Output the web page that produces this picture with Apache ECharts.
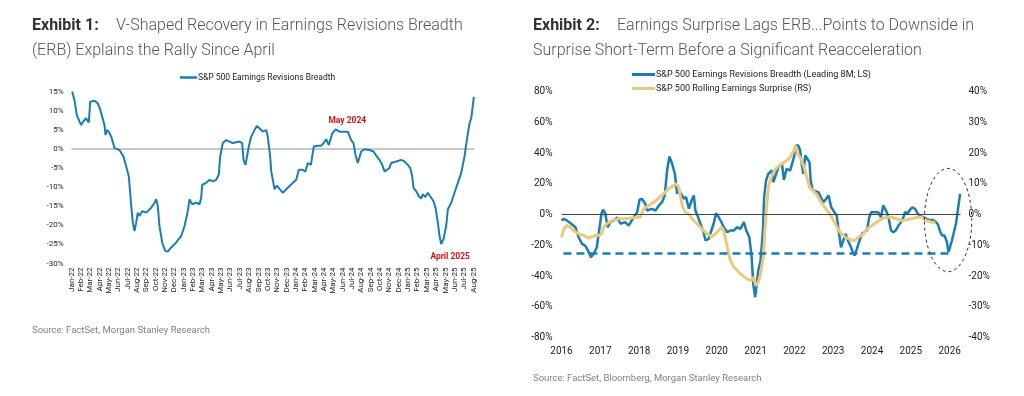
<!DOCTYPE html>
<html>
<head>
<meta charset="utf-8">
<script src="https://cdn.jsdelivr.net/npm/echarts@6/dist/echarts.min.js"></script>
<style>
  html, body { margin: 0; padding: 0; background: #fff; }
  #main { width: 1024px; height: 396px; }
</style>
</head>
<body>
<div id="main"></div>
<script>
// Exhibit 1: monthly ticks Jan-22 .. Aug-25
var monthLabels = ['Jan-22', 'Feb-22', 'Mar-22', 'Apr-22', 'May-22', 'Jun-22', 'Jul-22', 'Aug-22', 'Sep-22', 'Oct-22', 'Nov-22', 'Dec-22',
  'Jan-23', 'Feb-23', 'Mar-23', 'Apr-23', 'May-23', 'Jun-23', 'Jul-23', 'Aug-23', 'Sep-23', 'Oct-23', 'Nov-23', 'Dec-23',
  'Jan-24', 'Feb-24', 'Mar-24', 'Apr-24', 'May-24', 'Jun-24', 'Jul-24', 'Aug-24', 'Sep-24', 'Oct-24', 'Nov-24', 'Dec-24',
  'Jan-25', 'Feb-25', 'Mar-25', 'Apr-25', 'May-25', 'Jun-25', 'Jul-25', 'Aug-25'];

// position in months since Jan-22
var erbMonth = [0.07, 0.32, 0.57, 0.86, 1.04, 1.2, 1.39, 1.55, 1.64, 1.85, 2.0, 2.46, 2.81, 3.0, 3.18, 3.53, 3.64, 3.78, 4.0, 4.25,
  4.6, 5.13, 5.56, 5.85, 6.13, 6.39, 6.56, 6.74, 6.92, 7.09, 7.27, 7.56, 7.99, 8.52, 8.88, 9.06, 9.23, 9.41, 9.7, 10.02,
  10.3, 10.66, 11.2, 11.73, 12.09, 12.44, 12.62, 12.91, 13.34, 13.69, 13.87, 13.98, 14.41, 14.76, 15.11, 15.48, 15.75, 15.9, 16.18, 16.55,
  17.25, 17.97, 18.25, 18.4, 18.61, 18.75, 18.96, 19.22, 19.57, 19.82, 20.1, 20.46, 20.82, 20.99, 21.25, 21.36, 21.53, 21.71, 21.96, 22.25,
  22.6, 22.78, 23.13, 23.67, 24.03, 24.31, 24.74, 25.0, 25.27, 25.6, 25.91, 26.34, 26.7, 26.95, 27.24, 27.52, 27.7, 27.88, 28.24, 28.66,
  29.2, 29.55, 29.91, 30.16, 30.37, 30.62, 30.8, 30.98, 31.34, 31.87, 32.3, 32.59, 32.94, 33.23, 33.48, 33.72, 34.01, 34.19, 34.73, 35.26,
  35.61, 35.97, 36.22, 36.44, 36.58, 36.87, 37.14, 37.4, 37.57, 37.85, 38.11, 38.47, 38.72, 38.93, 39.18, 39.36, 39.54, 39.79, 40.07, 40.25,
  40.61, 40.96, 41.32, 41.68, 42.03, 42.28, 42.57, 42.75, 42.86, 42.95, 43.03];
var erbBreadth = [15, 12.7, 8.8, 7.1, 6.2, 7.0, 7.1, 8.0, 8.2, 6.9, 12.3, 12.6, 11.9, 10.8, 9.3, 6.2, 3.6, 4.9, 4.4, 3.2,
  0.2, -0.3, -2.0, -4.6, -7.2, -15, -19.3, -21.5, -19.3, -16.7, -17.6, -16.3, -16.7, -15.4, -14.1, -13.2, -15, -20.2, -24.5, -26.7,
  -26.9, -25.8, -24.5, -22.8, -20.2, -16.3, -13.2, -14.5, -14.1, -14.5, -12.8, -9.4, -8.9, -8.1, -8.5, -8.1, -6.8, -2.0, 1.5, 2.3,
  1.5, 1.9, 1.5, -2.9, -4.2, -3.8, 0.6, 3.2, 4.9, 6.0, 5.4, 4.5, 4.9, 3.2, -2.0, -5.9, -8.1, -10.6, -9.6, -10.5,
  -11.5, -11.7, -10.2, -8.9, -8.1, -5.5, -5.5, -6.0, -3.7, -4.2, 0.6, 0.8, 0.8, 1.5, 2.5, 1.0, 0.8, 4.0, 5.1, 4.5,
  4.5, 4.5, 2.3, 1.5, -1.6, -3.7, -3.2, -0.7, -0.1, -0.3, -0.7, -1.8, -2.9, -4.2, -5.9, -5.5, -5.0, -3.7, -3.3, -2.9,
  -3.3, -4.2, -5.0, -7.2, -10.2, -11.1, -12.4, -13.0, -11.9, -12.6, -11.5, -12.8, -13.7, -15.4, -19.3, -22.8, -24.9, -23.6, -20.2, -15.8,
  -14.1, -11.5, -8.9, -6.3, -2.0, 2.3, 6.7, 8.0, 10.1, 10.0, 13.6];

// Exhibit 2: ERB leading 8M (left scale)
var leadYear = [2016.00, 2016.06, 2016.14, 2016.25, 2016.36, 2016.44, 2016.53, 2016.61, 2016.68, 2016.76, 2016.83, 2016.91, 2016.97,
  2017.03, 2017.07, 2017.13, 2017.19, 2017.26, 2017.35, 2017.43, 2017.52, 2017.64, 2017.73, 2017.86, 2017.95,
  2018.01, 2018.07, 2018.16, 2018.20, 2018.33, 2018.42, 2018.51, 2018.59, 2018.66, 2018.72, 2018.78, 2018.85, 2018.92, 2018.98,
  2019.02, 2019.11, 2019.15, 2019.21, 2019.28, 2019.35, 2019.41, 2019.45, 2019.52, 2019.58, 2019.66, 2019.71, 2019.79, 2019.86, 2019.92, 2019.98,
  2020.05, 2020.12, 2020.18, 2020.27, 2020.35, 2020.44, 2020.52, 2020.61, 2020.70, 2020.76, 2020.84, 2020.90, 2020.94, 2020.99,
  2021.03, 2021.07, 2021.13, 2021.19, 2021.22, 2021.27, 2021.33, 2021.42, 2021.46, 2021.53, 2021.59, 2021.68, 2021.73, 2021.80, 2021.89, 2021.99,
  2022.04, 2022.10, 2022.15, 2022.19, 2022.23, 2022.28, 2022.33, 2022.39, 2022.42, 2022.47, 2022.62, 2022.68, 2022.75, 2022.82, 2022.88, 2022.95,
  2023.03, 2023.09, 2023.13, 2023.20, 2023.26, 2023.32, 2023.38, 2023.44, 2023.49, 2023.55, 2023.61, 2023.68, 2023.74, 2023.80, 2023.87, 2023.93, 2023.98,
  2024.04, 2024.16, 2024.23, 2024.29, 2024.34, 2024.38, 2024.44, 2024.49, 2024.55, 2024.61, 2024.68, 2024.75, 2024.81, 2024.85, 2024.92, 2024.98,
  2025.04, 2025.11, 2025.18, 2025.24, 2025.32, 2025.41, 2025.50, 2025.56, 2025.63, 2025.70, 2025.76, 2025.81, 2025.87, 2025.93, 2025.97,
  2026.01, 2026.06, 2026.12, 2026.17, 2026.21, 2026.27];
var leadBreadth = [-3.9, -2.8, -3.9, -6.0, -8.3, -14.8, -19.1, -20.2, -23.4, -27.8, -25.5, -21.3, -10.4,
  0.5, 3.1, 0.5, -8.3, -5.0, -3.9, -1.8, -6.0, -5.0, -7.2, -1.8, 1.5,
  9.6, 10.2, 7.0, 2.6, 3.7, 2.6, 5.9, 8.0, 12.4, 28.6, 37.7, 33.0, 26.5, 13.5,
  15.6, 12.4, 10.2, 11.3, 3.7, 9.1, 12.4, 2.6, -1.8, -6.0, -11.5, -16.9, -15.8, -10.4, -6.0, 0.8,
  -1.8, -5.0, -8.3, -11.5, -10.4, -10.4, -8.3, -9.3, -5.0, -10.4, -14.8, -27.8, -45.1, -53.8,
  -45.1, -36.4, -29.9, -10.4, 11.3, 22.1, 26.5, 28.6, 21.0, 26.5, 30.8, 33.0, 22.6, 29.7, 28.6, 37.3,
  44.9, 44.9, 41.6, 33.0, 26.5, 38.4, 37.3, 34.0, 22.1, 15.6, 14.5, 11.3, 8.0, 10.2, 12.4, 4.7,
  1.5, -0.7, -8.3, -21.3, -16.9, -12.6, -16.9, -20.2, -23.4, -26.7, -22.3, -16.9, -12.6, -11.5, -10.4, -1.8, 1.5,
  1.5, 1.5, -1.8, 5.9, 4.7, 1.5, -3.9, -10.4, -11.5, -10.4, -7.2, -5.0, -1.8, 1.5, 0.8, 3.1,
  4.7, 3.7, 0.5, -0.7, -1.8, -2.8, -3.9, -3.4, -4.4, -6.5, -11.5, -13.7, -13.7, -18.0, -24.5,
  -24.5, -16.9, -10.4, -5.0, 2.6, 13.5];

// Exhibit 2: rolling earnings surprise (right scale)
var surpriseYear = [2016.00, 2016.06, 2016.14, 2016.23, 2016.31, 2016.44, 2016.57, 2016.70, 2016.79, 2016.87, 2016.96,
  2017.03, 2017.09, 2017.17, 2017.30, 2017.47, 2017.64, 2017.82, 2017.95,
  2018.03, 2018.12, 2018.25, 2018.38, 2018.51, 2018.63, 2018.76, 2018.89, 2018.95,
  2019.02, 2019.06, 2019.12, 2019.19, 2019.28, 2019.36, 2019.49, 2019.62, 2019.75, 2019.88,
  2020.01, 2020.12, 2020.18, 2020.27, 2020.35, 2020.44, 2020.57, 2020.70, 2020.78, 2020.88, 2020.94,
  2021.01, 2021.07, 2021.13, 2021.20, 2021.24, 2021.29, 2021.33, 2021.39, 2021.46, 2021.56, 2021.68, 2021.80, 2021.89, 2021.97,
  2022.03, 2022.08, 2022.15, 2022.25, 2022.32, 2022.39, 2022.47, 2022.56, 2022.66, 2022.75, 2022.84, 2022.92,
  2023.05, 2023.18, 2023.31, 2023.44, 2023.55, 2023.65, 2023.78, 2023.87,
  2024.00, 2024.12, 2024.25, 2024.38, 2024.51, 2024.64, 2024.77, 2024.90,
  2025.03, 2025.15, 2025.28, 2025.41, 2025.54, 2025.63];
var surpriseValue = [-7.4, -4.7, -3.6, -4.1, -5.2, -6.3, -6.8, -7.7, -7.2, -6.8, -6.8,
  -6.3, -4.1, -3.0, -2.0, -1.4, -1.4, -1.1, -0.9,
  -0.9, 1.9, 2.9, 4.0, 5.4, 6.7, 8.4, 9.4, 10.0,
  8.9, 6.2, 2.4, 0.7, 0.2, -1.4, -3.0, -4.7, -6.3, -7.2,
  -5.8, -4.1, -5.2, -10.6, -15.0, -17.1, -18.8, -20.2, -20.9, -21.5, -20.4,
  -23.1, -22.0, -19.3, -13.9, -5.2, 3.5, 8.9, 11.6, 13.8, 15.4, 16.5, 17.6, 18.6, 20.3,
  22.4, 19.7, 18.6, 15.4, 12.1, 8.9, 7.8, 6.7, 4.6, 2.9, 1.3, 0.2,
  -3.0, -5.8, -7.4, -8.2, -8.5, -7.4, -6.3, -4.7,
  -3.6, -2.5, -1.4, -0.9, -0.9, -1.4, -2.0, -1.6,
  -1.4, -0.9, -0.9, -2.0, -2.5, -2.5];

var BLUE = '#1b7db6';
var GOLD = '#ebc97c';
var FONT = 'Roboto, "Liberation Sans", sans-serif';

function zip(xs, ys) {
  return xs.map(function (x, i) { return [x, ys[i]]; });
}

var myChart = echarts.init(document.getElementById('main'), null, { renderer: 'canvas' });

var titleRich = {
  b: { fontFamily: FONT, fontSize: 16, fontWeight: 'bold', color: '#333', width: 84 },
  t: { fontFamily: FONT, fontSize: 16, fontWeight: 300, color: '#555', lineHeight: 25 }
};

myChart.setOption({
  animation: false,
  textStyle: { fontFamily: FONT },
  title: [
    {
      left: 27, top: 8,
      text: '{b|Exhibit 1:}{t|V-Shaped Recovery in Earnings Revisions Breadth}\n{t|(ERB) Explains the Rally Since April}',
      textStyle: { rich: titleRich, lineHeight: 25 }
    },
    {
      left: 528, top: 8,
      text: '{b|Exhibit 2:}{t|Earnings Surprise Lags ERB...Points to Downside in}\n{t|Surprise Short-Term Before a Significant Reacceleration}',
      textStyle: { rich: titleRich, lineHeight: 25 }
    },
    {
      left: 27, top: 321,
      text: 'Source: FactSet, Morgan Stanley Research',
      textStyle: { fontSize: 9.5, fontWeight: 'normal', color: '#808080' }
    },
    {
      left: 528, top: 369,
      text: 'Source: FactSet, Bloomberg, Morgan Stanley Research',
      textStyle: { fontSize: 9.5, fontWeight: 'normal', color: '#808080' }
    }
  ],
  legend: [
    {
      left: 175, top: 68,
      data: ['S&P 500 Earnings Revisions Breadth'],
      icon: 'rect', itemWidth: 17, itemHeight: 2.5, itemGap: 2,
      textStyle: { fontSize: 8.5, color: '#222', padding: [0, 0, 0, -4] }
    },
    {
      left: 627, top: 65, orient: 'vertical',
      data: ['S&P 500 Earnings Revisions Breadth (Leading 8M; LS)', 'S&P 500 Rolling Earnings Surprise (RS)'],
      icon: 'rect', itemWidth: 23, itemHeight: 3, itemGap: 5,
      textStyle: { fontSize: 9, color: '#222', padding: [0, 0, 0, -4] }
    }
  ],
  grid: [
    { left: 71.5, top: 91.5, width: 403, height: 172, containLabel: false },
    { left: 561.5, top: 91.5, width: 399, height: 246, containLabel: false }
  ],
  xAxis: [
    {
      type: 'value', gridIndex: 0, min: 0, max: 43.1, interval: 1,
      axisLine: { show: false }, axisTick: { show: false }, splitLine: { show: false },
      axisLabel: {
        rotate: 90, fontSize: 8, color: '#222', margin: 4,
        showMaxLabel: false,
        formatter: function (v) { return Number.isInteger(v) ? monthLabels[v] : ''; }
      }
    },
    {
      type: 'value', gridIndex: 1, min: 2016, max: 2026.28, interval: 1,
      axisLine: { show: false }, axisTick: { show: false }, splitLine: { show: false },
      axisLabel: {
        fontSize: 10, color: '#222', margin: 9,
        showMaxLabel: false,
        formatter: function (v) { return Number.isInteger(v) ? String(v) : ''; }
      }
    }
  ],
  yAxis: [
    {
      type: 'value', gridIndex: 0, min: -30, max: 15, interval: 5,
      axisLine: { show: false }, axisTick: { show: false }, splitLine: { show: false },
      axisLabel: { fontSize: 8, color: '#222', margin: 8, formatter: '{value}%' }
    },
    {
      type: 'value', gridIndex: 1, min: -80, max: 80, interval: 20,
      axisLine: { show: false }, axisTick: { show: false }, splitLine: { show: false },
      axisLabel: { fontSize: 10, color: '#222', margin: 9, formatter: '{value}%' }
    },
    {
      type: 'value', gridIndex: 1, position: 'right', min: -40, max: 40, interval: 10,
      axisLine: { show: false }, axisTick: { show: false }, splitLine: { show: false },
      axisLabel: { fontSize: 10, color: '#222', margin: 8, formatter: '{value}%' }
    }
  ],
  series: [
    {
      name: 'S&P 500 Earnings Revisions Breadth',
      type: 'line', xAxisIndex: 0, yAxisIndex: 0,
      data: zip(erbMonth, erbBreadth),
      showSymbol: false, symbol: 'none',
      lineStyle: { color: BLUE, width: 2 },
      itemStyle: { color: BLUE },
      markLine: {
        silent: true, symbol: 'none', z: 1,
        label: { show: false },
        lineStyle: { color: '#c8c8c8', width: 2, type: 'solid' },
        data: [{ yAxis: 0 }]
      },
      markPoint: {
        silent: true,
        symbol: 'rect', symbolSize: 1,
        itemStyle: { color: 'rgba(0,0,0,0)' },
        label: { show: true, position: 'inside', color: '#d0121b', fontWeight: 'bold', fontSize: 8.5 },
        data: [
          { coord: [29.5, 7.4], value: 'May 2024', label: { formatter: 'May 2024' } },
          { coord: [40.5, -28.3], value: 'April 2025', label: { formatter: 'April 2025' } }
        ]
      }
    },
    {
      name: 'S&P 500 Earnings Revisions Breadth (Leading 8M; LS)',
      type: 'line', xAxisIndex: 1, yAxisIndex: 1,
      data: zip(leadYear, leadBreadth),
      showSymbol: false, symbol: 'none',
      lineStyle: { color: BLUE, width: 2.5 },
      itemStyle: { color: BLUE },
      markLine: {
        silent: true, symbol: 'none',
        label: { show: false },
        data: [
          { yAxis: 0, lineStyle: { color: '#444', width: 1, type: 'solid' } },
          [
            { coord: [2016.05, -25], lineStyle: { color: BLUE, width: 2.5, type: [8, 5] } },
            { coord: [2026.0, -25] }
          ]
        ]
      }
    },
    {
      name: 'S&P 500 Rolling Earnings Surprise (RS)',
      type: 'line', xAxisIndex: 1, yAxisIndex: 2,
      data: zip(surpriseYear, surpriseValue),
      showSymbol: false, symbol: 'none',
      lineStyle: { color: GOLD, width: 3 },
      itemStyle: { color: GOLD }
    }
  ]
});

// dashed ellipse around the latest readings, placed through the axes
var c = myChart.convertToPixel({ xAxisIndex: 1, yAxisIndex: 1 }, [2025.96, -3.6]);
var e = myChart.convertToPixel({ xAxisIndex: 1, yAxisIndex: 1 }, [2026.57, 30]);
myChart.setOption({
  graphic: [{
    type: 'ellipse', silent: true, z: 100,
    shape: { cx: c[0], cy: c[1], rx: e[0] - c[0], ry: c[1] - e[1] },
    style: { fill: 'none', stroke: '#2a3440', lineWidth: 1, lineDash: [3, 3] }
  }]
});
</script>
</body>
</html>
